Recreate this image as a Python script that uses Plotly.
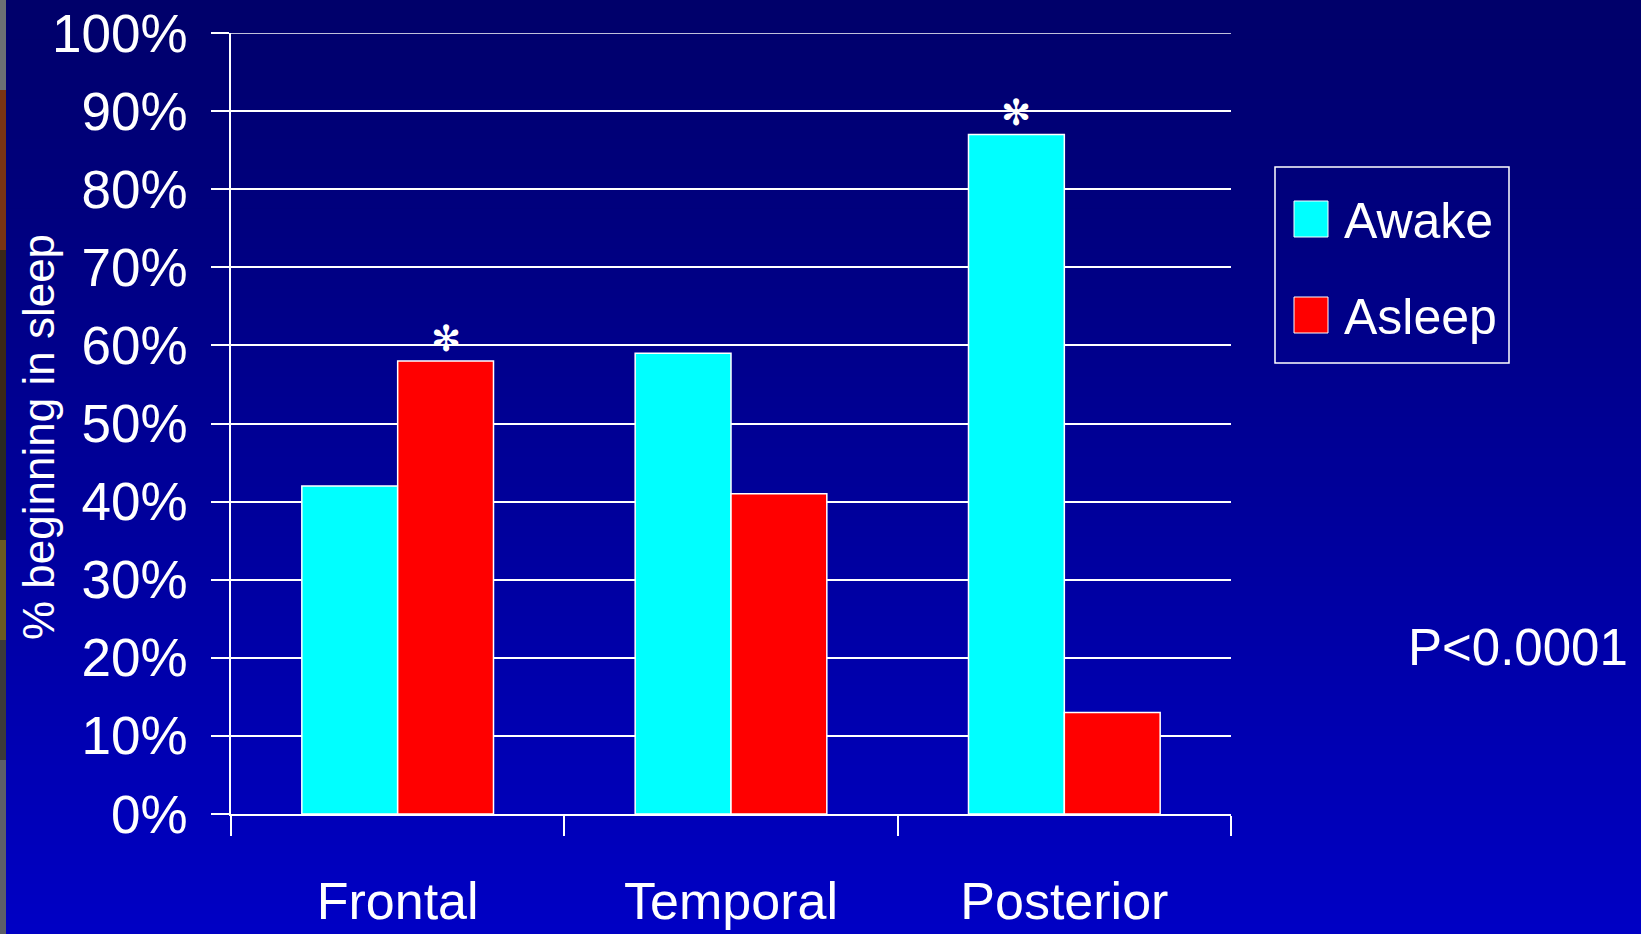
import plotly.graph_objects as go

# ---- data ----
regions = ["Frontal", "Temporal", "Posterior"]
awake = [42, 59, 87]
asleep = [58, 41, 13]
awake_sig = [False, False, True]
asleep_sig = [True, False, False]
series_names = ["Awake", "Asleep"]
series_colors = ["#00FFFF", "#FF0000"]
y_ticks = list(range(0, 101, 10))
y_title = "% beginning in sleep"
p_label = "P<0.0001"

# ---- layout geometry (pixels) ----
W, H = 1641, 934
L, R, T, B = 231, 410, 33, 120
PW, PH = W - L - R, H - T - B
BARGAP = 0.425
FONT = "Liberation Sans, Arial, sans-serif"


def px(x):
    return (x - L) / PW


def py(y):
    return (H - B - y) / PH


def lerp_color(c0, c1, t):
    return "rgb({},{},{})".format(*[round(a + (b - a) * t) for a, b in zip(c0, c1)])


fig = go.Figure()

for name, vals, color in zip(series_names, [awake, asleep], series_colors):
    fig.add_trace(go.Bar(
        x=regions, y=vals, name=name,
        marker=dict(color=color, line=dict(color="white", width=1.5)),
        showlegend=False,
    ))

shapes = []

# vertical blue gradient behind everything
top_rgb, bot_rgb = (0, 0, 106), (0, 0, 196)
steps = 94
for k in range(steps):
    y0 = H * k / steps
    y1 = H * (k + 1) / steps + 1
    shapes.append(dict(
        type="rect", xref="paper", yref="paper", layer="below",
        x0=px(-2), x1=px(W + 2), y0=py(y0 - (2 if k == 0 else 0)), y1=py(y1),
        fillcolor=lerp_color(top_rgb, bot_rgb, k / (steps - 1)),
        line=dict(width=0),
    ))

# thin photo strip at the left edge of the slide
strip = [(-2, 90, "#6c7074"), (90, 250, "#7a3414"), (250, 420, "#3b2818"),
         (420, 540, "#2a2a22"), (540, 640, "#6a5a22"), (640, 760, "#3c3a3a"),
         (760, 936, "#5c5e68")]
for y0, y1, c in strip:
    shapes.append(dict(
        type="rect", xref="paper", yref="paper", layer="below",
        x0=px(-2), x1=px(6), y0=py(y0), y1=py(y1),
        fillcolor=c, line=dict(width=0),
    ))

# top gridline at 100%
shapes.append(dict(
    type="line", xref="paper", yref="y", x0=px(213), x1=1, y0=100, y1=100,
    line=dict(color="white", width=1.5),
))

# legend box with swatches
shapes.append(dict(
    type="rect", xref="paper", yref="paper",
    x0=px(1275), x1=px(1509), y0=py(167), y1=py(363),
    line=dict(color="white", width=1.5), fillcolor="rgba(0,0,0,0)",
))
annotations = []
for k, (name, color) in enumerate(zip(series_names, series_colors)):
    yc = 219 + 96 * k
    shapes.append(dict(
        type="rect", xref="paper", yref="paper",
        x0=px(1294), x1=px(1328), y0=py(yc - 18), y1=py(yc + 18),
        fillcolor=color, line=dict(color="white", width=1),
    ))
    annotations.append(dict(
        xref="paper", yref="paper", x=px(1342), y=py(yc + 2),
        xanchor="left", yanchor="middle", text=name, showarrow=False,
        font=dict(family=FONT, size=50, color="white"),
    ))

# significance asterisks above bars
half = (1 - BARGAP) / 4
for i, region in enumerate(regions):
    for vals, sig, off in [(awake, awake_sig, -half), (asleep, asleep_sig, half)]:
        if sig[i]:
            annotations.append(dict(
                x=i + off, y=vals[i], xref="x", yref="y",
                text="\u273B", showarrow=False, yanchor="bottom", yshift=0,
                font=dict(family="DejaVu Sans", size=36, color="white"),
            ))

# y-axis title
annotations.append(dict(
    xref="paper", yref="paper", x=px(38), y=py(437),
    xanchor="center", yanchor="middle", textangle=-90,
    text=y_title, showarrow=False,
    font=dict(family=FONT, size=44, color="white"),
))

# p-value note
annotations.append(dict(
    xref="paper", yref="paper", x=px(1518), y=py(647),
    xanchor="center", yanchor="middle",
    text=p_label, showarrow=False,
    font=dict(family=FONT, size=51, color="white"),
))

fig.update_layout(
    width=W, height=H, autosize=False,
    margin=dict(l=L, r=R, t=T, b=B, pad=0, autoexpand=False),
    paper_bgcolor="rgba(0,0,0,0)",
    plot_bgcolor="rgba(0,0,0,0)",
    barmode="group", bargap=BARGAP, bargroupgap=0,
    shapes=shapes, annotations=annotations,
    font=dict(family=FONT, color="white"),
    showlegend=False,
)

fig.update_xaxes(
    type="category", tickson="boundaries", automargin=False,
    ticks="outside", ticklen=20, tickwidth=1.5, tickcolor="white",
    showline=True, linecolor="white", linewidth=1.5,
    showgrid=False, zeroline=False,
    tickfont=dict(family=FONT, size=52, color="white"),
    ticklabelstandoff=41,
)

fig.update_yaxes(
    range=[0, 100], tickvals=y_ticks, ticktext=[f"{v}%" for v in y_ticks],
    automargin=False,
    ticks="outside", ticklen=18, tickwidth=1.5, tickcolor="white",
    showline=True, linecolor="white", linewidth=1.5,
    showgrid=True, gridcolor="white", gridwidth=1.5, zeroline=False,
    tickfont=dict(family=FONT, size=53, color="white"),
    ticklabelstandoff=13,
)

fig.write_html(
    "out.html",
    config={"responsive": False, "displayModeBar": False},
    post_script="document.body.style.margin='0';document.body.style.overflow='hidden';",
)
